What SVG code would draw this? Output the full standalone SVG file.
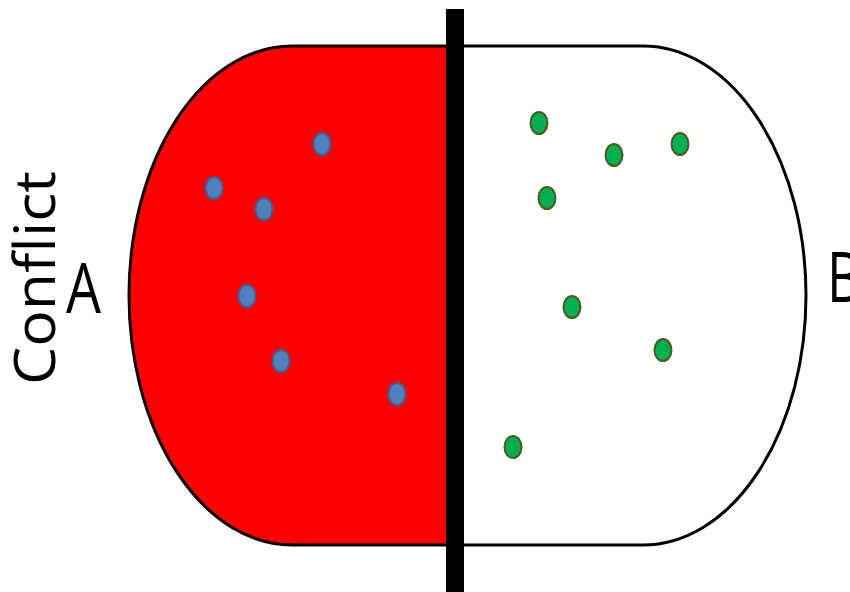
<svg xmlns="http://www.w3.org/2000/svg" width="850" height="592" viewBox="0 0 850 592">
<style>
.outline{stroke:#000;stroke-width:3}
.blue{fill:#4F81BD;stroke:#3B6496;stroke-width:2}
.green{fill:#00B050;stroke:#4F5A1E;stroke-width:2}
.lbl{font-family:"Open Sans","Liberation Sans",sans-serif;fill:#000}
</style>
<rect width="850" height="592" fill="#fff"/>
<g id="sideA">
<path class="outline" fill="#FF0000" d="M455 46 L292 46 A163 249.5 0 0 0 292 545 L455 545 Z"/>
</g>
<g id="sideB">
<path class="outline" fill="#FFFFFF" d="M455 46 L643 46 A163 249.5 0 0 1 643 545 L455 545 Z"/>
</g>
<g id="divider">
<rect x="446" y="9" width="18" height="583" fill="#000"/>
</g>
<g id="blueDots">
<ellipse class="blue" cx="322" cy="144" rx="8.5" ry="11"/>
<ellipse class="blue" cx="214" cy="188" rx="8.5" ry="11"/>
<ellipse class="blue" cx="264" cy="209" rx="8.5" ry="11"/>
<ellipse class="blue" cx="247" cy="296" rx="8.5" ry="11"/>
<ellipse class="blue" cx="281" cy="361" rx="8.5" ry="11"/>
<ellipse class="blue" cx="397" cy="394" rx="8.5" ry="11"/>
</g>
<g id="greenDots">
<ellipse class="green" cx="539" cy="123" rx="8.5" ry="11"/>
<ellipse class="green" cx="614" cy="155" rx="8.5" ry="11"/>
<ellipse class="green" cx="680" cy="144" rx="8.5" ry="11"/>
<ellipse class="green" cx="547" cy="198" rx="8.5" ry="11"/>
<ellipse class="green" cx="572" cy="307" rx="8.5" ry="11"/>
<ellipse class="green" cx="663" cy="350" rx="8.5" ry="11"/>
<ellipse class="green" cx="513" cy="447" rx="8.5" ry="11"/>
</g>
<g id="labels">
<text class="lbl" transform="translate(55,385) rotate(-90)" font-size="56" textLength="214" lengthAdjust="spacingAndGlyphs">Conflict</text>
<text class="lbl" x="66" y="313" font-size="70" textLength="35" lengthAdjust="spacingAndGlyphs">A</text>
<text class="lbl" x="827" y="302" font-size="70" textLength="34" lengthAdjust="spacingAndGlyphs">B</text>
</g>
</svg>
